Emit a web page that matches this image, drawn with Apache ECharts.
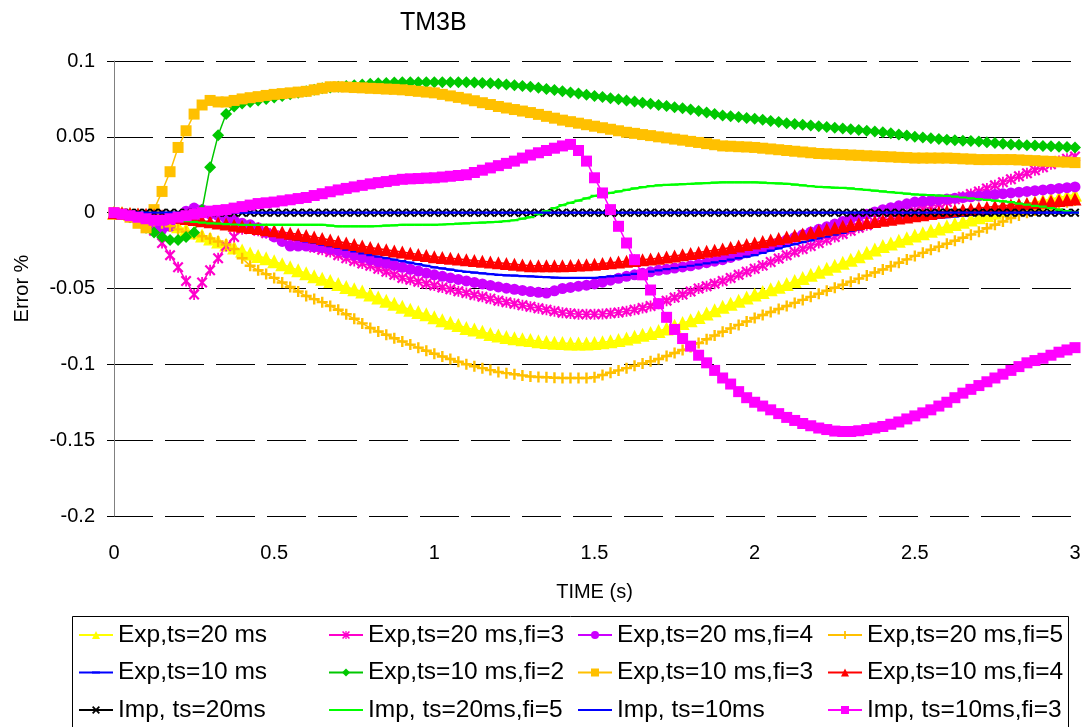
<!DOCTYPE html>
<html><head><meta charset="utf-8">
<script src="https://cdn.jsdelivr.net/npm/echarts@6/dist/echarts.min.js"></script>
<style>html,body{margin:0;padding:0;background:#fff}#c{width:1085px;height:727px}</style>
</head><body><div id="c"></div>
<script>
// time (s)
const TIME = [
0,.025,.05,.075,.1,.125,.15,.175,
.2,.225,.25,.275,.3,.325,.35,.375,
.4,.425,.45,.475,.5,.525,.55,.575,
.6,.625,.65,.675,.7,.725,.75,.775,
.8,.825,.85,.875,.9,.925,.95,.975,
1,1.025,1.05,1.075,1.1,1.125,1.15,1.175,
1.2,1.225,1.25,1.275,1.3,1.325,1.35,1.375,
1.4,1.425,1.45,1.475,1.5,1.525,1.55,1.575,
1.6,1.625,1.65,1.675,1.7,1.725,1.75,1.775,
1.8,1.825,1.85,1.875,1.9,1.925,1.95,1.975,
2,2.025,2.05,2.075,2.1,2.125,2.15,2.175,
2.2,2.225,2.25,2.275,2.3,2.325,2.35,2.375,
2.4,2.425,2.45,2.475,2.5,2.525,2.55,2.575,
2.6,2.625,2.65,2.675,2.7,2.725,2.75,2.775,
2.8,2.825,2.85,2.875,2.9,2.925,2.95,2.975,
3];

const EXP20 = [
0,-.0003,-.0008,-.0014,-.002,-.0035,-.005,-.007,
-.009,-.011,-.013,-.015,-.017,-.019,-.021,-.023,
-.025,-.027,-.0285,-.03,-.032,-.034,-.036,-.038,
-.04,-.042,-.0435,-.045,-.047,-.049,-.0505,-.052,
-.054,-.056,-.058,-.06,-.062,-.064,-.0655,-.067,
-.069,-.071,-.0725,-.074,-.076,-.077,-.0785,-.08,
-.081,-.082,-.0828,-.0835,-.084,-.0847,-.0853,-.0857,
-.086,-.0862,-.0863,-.0862,-.086,-.0855,-.0848,-.084,
-.083,-.0818,-.0805,-.0793,-.078,-.0763,-.0745,-.0728,
-.071,-.0688,-.0665,-.0643,-.062,-.06,-.058,-.056,
-.054,-.0523,-.0505,-.0488,-.047,-.045,-.043,-.041,
-.039,-.037,-.035,-.033,-.031,-.0288,-.0265,-.0243,
-.022,-.0203,-.0185,-.0168,-.015,-.0135,-.012,-.0105,
-.009,-.0075,-.006,-.0045,-.003,-.0015,0,.0015,
.003,.0043,.0055,.0068,.008,.009,.01,.011,
.012];

const EXP20_FI3 = [
0,-.0008,-.002,-.004,-.007,-.012,-.02,-.028,
-.036,-.045,-.054,-.046,-.038,-.03,-.022,-.016,
-.011,-.01,-.012,-.0135,-.015,-.0165,-.018,-.0195,
-.021,-.023,-.0245,-.026,-.028,-.03,-.0318,-.0335,
-.035,-.037,-.039,-.041,-.043,-.0443,-.0455,-.0468,
-.048,-.0493,-.0505,-.0518,-.053,-.0543,-.0555,-.0568,
-.058,-.059,-.06,-.061,-.062,-.063,-.064,-.065,
-.066,-.0665,-.067,-.067,-.067,-.0668,-.0663,-.0658,
-.065,-.064,-.0628,-.0615,-.06,-.058,-.056,-.054,
-.052,-.05,-.0485,-.0468,-.045,-.043,-.041,-.039,
-.037,-.0348,-.0325,-.0303,-.028,-.026,-.024,-.022,
-.02,-.018,-.016,-.014,-.012,-.01,-.0083,-.0065,
-.005,-.0035,-.002,-.0005,.001,.0025,.004,.0055,
.007,.0088,.0105,.0123,.014,.016,.018,.02,
.022,.024,.026,.028,.03,.032,.034,.0355,
.037];

const EXP20_FI4 = [
0,-.001,-.003,-.005,-.008,-.01,-.011,-.009,
-.004,.001,.003,.002,-.001,-.002,-.004,-.005,
-.007,-.008,-.01,-.013,-.016,-.019,-.022,-.022,
-.022,-.0225,-.023,-.024,-.025,-.0265,-.028,-.0295,
-.031,-.0323,-.0335,-.0348,-.036,-.0373,-.0385,-.0398,
-.041,-.042,-.043,-.044,-.045,-.046,-.047,-.048,
-.049,-.0498,-.0505,-.0513,-.052,-.0525,-.053,-.0515,
-.05,-.0493,-.0485,-.0478,-.047,-.0458,-.0445,-.0433,
-.042,-.041,-.04,-.039,-.038,-.0373,-.0365,-.0358,
-.035,-.034,-.033,-.032,-.031,-.0295,-.028,-.0265,
-.025,-.0233,-.0215,-.0198,-.018,-.0163,-.0145,-.0128,
-.011,-.0093,-.0075,-.0058,-.004,-.0025,-.001,.0005,
.002,.0033,.0045,.0058,.007,.0075,.008,.0085,
.009,.0095,.01,.0105,.011,.0115,.012,.0125,
.013,.0135,.014,.0145,.015,.0155,.016,.0165,
.017];

const EXP20_FI5 = [
0,-.0005,-.001,-.0025,-.004,-.0055,-.007,-.009,
-.011,-.0125,-.014,-.0155,-.017,-.019,-.021,-.024,
-.03,-.035,-.038,-.0405,-.043,-.046,-.049,-.052,
-.055,-.057,-.059,-.0615,-.064,-.067,-.07,-.073,
-.076,-.0783,-.0805,-.0828,-.085,-.087,-.089,-.091,
-.093,-.0948,-.0965,-.0983,-.1,-.1013,-.1025,-.1038,
-.105,-.1058,-.1065,-.1073,-.108,-.1083,-.1085,-.1088,
-.109,-.109,-.109,-.109,-.1085,-.107,-.1055,-.104,
-.1025,-.101,-.0995,-.098,-.0965,-.0945,-.0925,-.0905,
-.0885,-.086,-.0835,-.081,-.0785,-.0763,-.074,-.0718,
-.0695,-.0675,-.0655,-.0635,-.0615,-.0595,-.0575,-.0555,
-.0535,-.0515,-.0495,-.0475,-.0455,-.0435,-.0415,-.0395,
-.0375,-.0353,-.033,-.0308,-.0285,-.0265,-.0245,-.0225,
-.0205,-.0185,-.0165,-.0145,-.0125,-.0103,-.008,-.0058,
-.0035,-.0018,0,.0015,.003,.0043,.0055,.0068,
.008];

const EXP10 = [
0,-.0005,-.001,-.0015,-.002,-.0028,-.0035,-.0043,
-.005,-.0058,-.0065,-.0073,-.008,-.0088,-.0095,-.0103,
-.011,-.012,-.013,-.014,-.015,-.016,-.017,-.018,
-.019,-.02,-.021,-.022,-.023,-.0243,-.0255,-.0268,
-.028,-.029,-.03,-.031,-.032,-.033,-.034,-.035,
-.036,-.0368,-.0375,-.0383,-.039,-.0395,-.04,-.0405,
-.041,-.0413,-.0415,-.0418,-.042,-.0423,-.0425,-.0428,
-.043,-.043,-.043,-.043,-.043,-.0425,-.042,-.0415,
-.041,-.0403,-.0395,-.0388,-.038,-.0373,-.0365,-.0358,
-.035,-.0343,-.0335,-.0328,-.032,-.031,-.03,-.029,
-.028,-.0265,-.025,-.0235,-.022,-.0208,-.0195,-.0183,
-.017,-.0158,-.0145,-.0133,-.012,-.011,-.01,-.009,
-.008,-.0073,-.0065,-.0058,-.005,-.0045,-.004,-.0035,
-.003,-.0025,-.002,-.0015,-.001,-.0008,-.0005,-.0003,
0,0,0,0,0,0,0,0,
0];

const EXP10_FI2 = [
0,-.001,-.003,-.006,-.01,-.013,-.016,-.018,
-.018,-.016,-.013,.002,.03,.051,.065,.07,
.072,.073,.074,.075,.076,.077,.078,.079,
.08,.081,.082,.0825,.083,.0835,.084,.0845,
.085,.0853,.0855,.0858,.086,.086,.086,.086,
.086,.086,.086,.086,.086,.0858,.0855,.0853,
.085,.0845,.084,.0835,.083,.0823,.0815,.0808,
.08,.0793,.0785,.0778,.077,.0763,.0755,.0748,
.074,.0733,.0725,.0718,.071,.0703,.0695,.0688,
.068,.067,.066,.065,.064,.0635,.063,.0625,
.062,.0613,.0605,.0598,.059,.0585,.058,.0575,
.057,.0565,.056,.0555,.055,.0545,.054,.0535,
.053,.0523,.0515,.0508,.05,.0495,.049,.0485,
.048,.0478,.0475,.0473,.047,.0465,.046,.0455,
.045,.0448,.0445,.0443,.044,.0438,.0435,.0433,
.043];

const EXP10_FI3 = [
0,-.001,-.003,-.007,-.01,.002,.014,.027,
.043,.054,.065,.071,.074,.073,.073,.074,
.075,.0758,.0765,.0773,.078,.0785,.079,.0795,
.08,.081,.082,.083,.083,.0828,.0825,.0823,
.082,.0818,.0815,.0813,.081,.0805,.08,.0795,
.079,.078,.077,.076,.075,.0738,.0725,.0713,
.07,.069,.068,.067,.066,.0648,.0635,.0623,
.061,.06,.059,.058,.057,.056,.055,.054,
.053,.0523,.0515,.0508,.05,.0493,.0485,.0478,
.047,.0463,.0455,.0448,.044,.0438,.0435,.0433,
.043,.0425,.042,.0415,.041,.0405,.04,.0395,
.039,.0388,.0385,.0383,.038,.0378,.0375,.0373,
.037,.0368,.0365,.0363,.036,.036,.036,.036,
.036,.0358,.0355,.0353,.035,.035,.035,.035,
.035,.0348,.0345,.0343,.034,.0338,.0335,.0333,
.033];

const EXP10_FI4 = [
0,-.0003,-.0005,-.0008,-.001,-.0015,-.002,-.0025,
-.003,-.0038,-.0045,-.0053,-.006,-.0068,-.0075,-.0083,
-.009,-.0098,-.0105,-.0113,-.012,-.0128,-.0135,-.0143,
-.015,-.016,-.017,-.018,-.019,-.02,-.021,-.022,
-.023,-.0238,-.0245,-.0253,-.026,-.0268,-.0275,-.0283,
-.029,-.0295,-.03,-.0305,-.031,-.0315,-.032,-.0325,
-.033,-.0335,-.034,-.0345,-.035,-.035,-.035,-.035,
-.035,-.0348,-.0345,-.0343,-.034,-.0335,-.033,-.0325,
-.032,-.0315,-.031,-.0305,-.03,-.0293,-.0285,-.0278,
-.027,-.0263,-.0255,-.0248,-.024,-.023,-.022,-.021,
-.02,-.019,-.018,-.017,-.016,-.015,-.014,-.013,
-.012,-.011,-.01,-.009,-.008,-.0073,-.0065,-.0058,
-.005,-.0043,-.0035,-.0028,-.002,-.0013,-.0005,.0003,
.001,.0015,.002,.0025,.003,.0035,.004,.0045,
.005,.0055,.006,.0065,.007,.0075,.008,.0085,
.009];

const IMP20 = [
0,0,0,0,0,0,0,0,
0,0,0,0,0,0,0,0,
0,0,0,0,0,0,0,0,
0,0,0,0,0,0,0,0,
0,0,0,0,0,0,0,0,
0,0,0,0,0,0,0,0,
0,0,0,0,0,0,0,0,
0,0,0,0,0,0,0,0,
0,0,0,0,0,0,0,0,
0,0,0,0,0,0,0,0,
0,0,0,0,0,0,0,0,
0,0,0,0,0,0,0,0,
0,0,0,0,0,0,0,0,
0,0,0,0,0,0,0,0,
0,0,0,0,0,0,0,0,
0];

const IMP20_FI5 = [
0,-.0005,-.001,-.002,-.003,-.0035,-.004,-.0045,
-.005,-.0055,-.006,-.0065,-.007,-.0073,-.0075,-.0078,
-.008,-.008,-.008,-.008,-.008,-.008,-.008,-.008,
-.008,-.008,-.008,-.0085,-.009,-.009,-.009,-.009,
-.009,-.0088,-.0085,-.0083,-.008,-.008,-.008,-.008,
-.008,-.0078,-.0075,-.0073,-.007,-.0068,-.0065,-.0063,
-.006,-.0055,-.005,-.004,-.003,-.001,.001,.003,
.005,.0065,.008,.0095,.011,.012,.013,.014,
.015,.016,.0168,.0175,.018,.0183,.0185,.0188,
.019,.0193,.0195,.0198,.02,.02,.02,.02,
.02,.0198,.0195,.0193,.019,.0185,.018,.0175,
.017,.0168,.0165,.0163,.016,.0155,.015,.0145,
.014,.0135,.013,.0125,.012,.0118,.0115,.0113,
.011,.0105,.01,.0095,.009,.0085,.008,.0075,
.007,.006,.0053,.0045,.004,.003,.002,.001,
0];

const IMP10 = [
0,0,0,0,0,0,0,0,
0,0,0,0,0,0,0,0,
0,0,0,0,0,0,0,0,
0,0,0,0,0,0,0,0,
0,0,0,0,0,0,0,0,
0,0,0,0,0,0,0,0,
0,0,0,0,0,0,0,0,
0,0,0,0,0,0,0,0,
0,0,0,0,0,0,0,0,
0,0,0,0,0,0,0,0,
0,0,0,0,0,0,0,0,
0,0,0,0,0,0,0,0,
0,0,0,0,0,0,0,0,
0,0,0,0,0,0,0,0,
0,0,0,0,0,0,0,0,
0];

const IMP10_FI3 = [
0,-.001,-.002,-.003,-.004,-.005,-.005,-.004,
-.003,-.002,-.001,0,.001,.0015,.002,.003,
.004,.005,.006,.0065,.007,.0078,.0085,.0093,
.01,.0113,.0125,.0138,.015,.016,.017,.018,
.019,.0198,.0205,.0213,.022,.0223,.0225,.0228,
.023,.0235,.024,.0245,.025,.0265,.028,.0295,
.031,.0325,.034,.036,.038,.0395,.041,.0425,
.044,.045,.041,.034,.023,.013,.002,-.009,
-.02,-.031,-.041,-.051,-.06,-.069,-.077,-.083,
-.088,-.094,-.099,-.104,-.109,-.113,-.118,-.122,
-.125,-.1275,-.13,-.1325,-.135,-.137,-.139,-.1405,
-.142,-.143,-.144,-.1443,-.1443,-.1438,-.143,-.142,
-.141,-.1395,-.138,-.136,-.134,-.132,-.13,-.1275,
-.125,-.122,-.119,-.1165,-.114,-.1115,-.109,-.1065,
-.104,-.1015,-.099,-.0975,-.096,-.094,-.092,-.0905,
-.089];

const NAMES = [
  'Exp,ts=20 ms', 'Exp,ts=20 ms,fi=3', 'Exp,ts=20 ms,fi=4', 'Exp,ts=20 ms,fi=5',
  'Exp,ts=10 ms', 'Exp,ts=10 ms,fi=2', 'Exp,ts=10 ms,fi=3', 'Exp,ts=10 ms,fi=4',
  'Imp, ts=20ms', 'Imp, ts=20ms,fi=5', 'Imp, ts=10ms', 'Imp, ts=10ms,fi=3'
];
const VALUES = [EXP20, EXP20_FI3, EXP20_FI4, EXP20_FI5, EXP10, EXP10_FI2, EXP10_FI3, EXP10_FI4, IMP20, IMP20_FI5, IMP10, IMP10_FI3];

const FONT = "'Liberation Sans', Arial, sans-serif";
const P_PLUS = 'path://M3.9,0H6.1V3.9H10V6.1H6.1V10H3.9V6.1H0V3.9H3.9Z';
const P_X = 'path://M0,1.6L1.6,0L5,3.4L8.4,0L10,1.6L6.6,5L10,8.4L8.4,10L5,6.6L1.6,10L0,8.4L3.4,5Z';
const P_AST = 'path://M0,1.4L1.4,0L5,3.6L8.6,0L10,1.4L6.4,5L10,8.6L8.6,10L5,6.4L1.4,10L0,8.6L3.6,5Z M4.2,0H5.8V10H4.2Z';
// thin bar centred in a square box (open zero-area subpaths only set the box)
const P_DASH = 'path://M0,0L10,0M0,10L10,10M0,3.6H10V6.4H0Z';

const STYLES = [
  {color:'#FFFF00', symbol:'triangle', size:14, lw:1.5},
  {color:'#FF00CC', symbol:P_AST, size:11, lw:1.5},
  {color:'#CC00FF', symbol:'circle', size:11, lw:1.5},
  {color:'#FFC000', symbol:P_PLUS, size:11, lw:1.5},
  {color:'#0000FF', symbol:P_DASH, size:8, lw:2},
  {color:'#00C800', symbol:'diamond', size:12, lw:1.5},
  {color:'#FFC000', symbol:'rect', size:11, lw:1.5},
  {color:'#FF0000', symbol:'triangle', size:13, lw:1.5},
  {color:'#000000', symbol:P_X, size:9, lw:1},
  {color:'#00FF00', symbol:P_DASH, size:8, lw:2},
  {color:'#0000FF', symbol:P_DASH, size:8, lw:2},
  {color:'#FF00FF', symbol:'rect', size:11, lw:1.5}
];

const series = NAMES.map((name, k) => {
  const s = STYLES[k];
  return {
    name, type:'line', color:s.color,
    data: TIME.map((t, i) => [t, VALUES[k][i]]),
    symbol:s.symbol, symbolSize:s.size,
    showSymbol:true, animation:false, silent:true,
    lineStyle:{width:s.lw, color:s.color},
    itemStyle:{color:s.color, borderWidth:0},
    emphasis:{disabled:true}
  };
});

const COLX = [78, 328, 577, 827];
const legends = COLX.map((x, c) => ({
  orient:'vertical', left:x, top:622, padding:0,
  itemWidth:34, itemHeight:10, itemGap:11.5, selectedMode:false,
  data:[NAMES[c], NAMES[c+4], NAMES[c+8]],
  textStyle:{fontSize:24.5, fontFamily:FONT, color:'#000', lineHeight:26}
}));

const fmt = v => String(parseFloat(Number(v).toFixed(2)));

const chart = echarts.init(document.getElementById('c'), null, {renderer:'canvas'});
chart.setOption({
  animation:false,
  backgroundColor:'#fff',
  title:{text:'TM3B', left:395, top:6, textStyle:{fontSize:25, fontWeight:'normal', fontFamily:FONT, color:'#000'}},
  grid:{left:114, right:10, top:61, bottom:211, containLabel:false},
  xAxis:{
    type:'value', min:0, max:3, interval:0.5,
    name:'TIME (s)', nameLocation:'middle', nameGap:66,
    nameTextStyle:{fontSize:20, fontFamily:FONT, color:'#000'},
    axisLine:{show:false}, axisTick:{show:false}, splitLine:{show:false},
    axisLabel:{fontSize:20, fontFamily:FONT, color:'#000', margin:27, formatter:fmt}
  },
  yAxis:{
    type:'value', min:-0.2, max:0.1, interval:0.05,
    name:'Error %', nameLocation:'middle', nameGap:82,
    nameTextStyle:{fontSize:20, fontFamily:FONT, color:'#000'},
    axisLine:{show:true, lineStyle:{color:'#808080', width:1}},
    axisTick:{show:true, length:7, lineStyle:{color:'#000'}},
    splitLine:{show:true, lineStyle:{color:'#000', width:1, type:[39,12]}},
    axisLabel:{fontSize:20, fontFamily:FONT, color:'#000', margin:19, formatter:fmt}
  },
  legend:legends,
  graphic:[{type:'rect', silent:true, z:-1, shape:{x:72.5, y:616.5, width:996, height:140}, style:{fill:null, stroke:'#000', lineWidth:1}}],
  series
});
</script>
</body></html>
